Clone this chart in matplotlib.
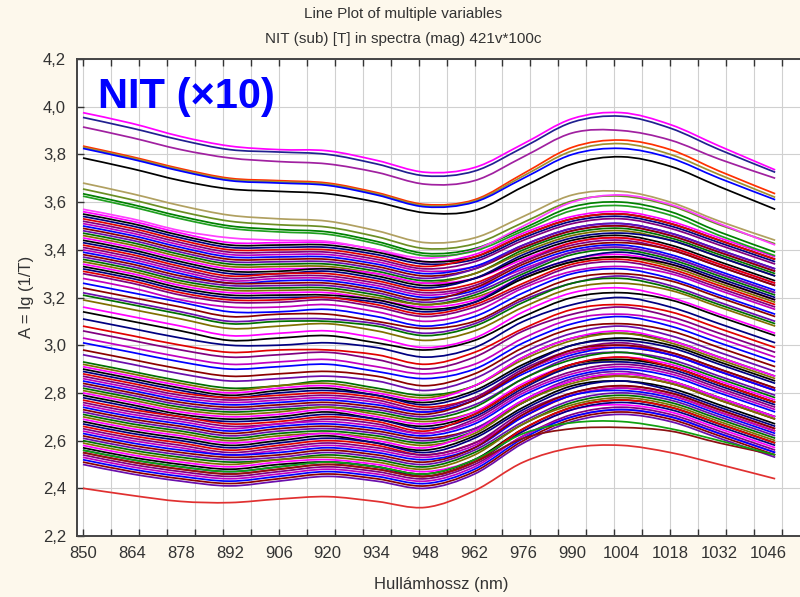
import matplotlib
matplotlib.use("Agg")
import matplotlib.pyplot as plt
from matplotlib.path import Path
from matplotlib.patches import PathPatch

plt.rcParams['font.family'] = ['Liberation Sans', 'DejaVu Sans']

title_lines = ["Line Plot of multiple variables",
               "NIT (sub) [T] in spectra (mag) 421v*100c"]
x_label = "Hullámhossz (nm)"
y_label = "A = lg (1/T)"
badge = "NIT (\u00d710)"

wavelengths = [850, 864, 878, 892, 906, 920, 934, 948, 962, 976, 990, 1004, 1018, 1032, 1048]
x_label_ticks = [850, 864, 878, 892, 906, 920, 934, 948, 962, 976, 990, 1004, 1018, 1032, 1046]
x_grid_ticks = list(range(850, 1051, 8))
y_ticks = [2.2, 2.4, 2.6, 2.8, 3.0, 3.2, 3.4, 3.6, 3.8, 4.0, 4.2]
y_tick_labels = ["2,2", "2,4", "2,6", "2,8", "3,0", "3,2", "3,4", "3,6", "3,8", "4,0", "4,2"]

top_group = [
    [3.975, 3.93, 3.875, 3.835, 3.82, 3.815, 3.775, 3.725, 3.745, 3.845, 3.95, 3.975, 3.925, 3.835, 3.735],
    [3.955, 3.91, 3.86, 3.82, 3.81, 3.80, 3.76, 3.71, 3.73, 3.83, 3.935, 3.96, 3.91, 3.82, 3.725],
    [3.915, 3.87, 3.82, 3.785, 3.77, 3.76, 3.725, 3.675, 3.69, 3.79, 3.89, 3.90, 3.86, 3.78, 3.70],
    [3.835, 3.79, 3.74, 3.70, 3.69, 3.68, 3.64, 3.59, 3.61, 3.72, 3.83, 3.86, 3.82, 3.73, 3.635],
    [3.83, 3.785, 3.735, 3.695, 3.685, 3.675, 3.635, 3.585, 3.605, 3.71, 3.815, 3.845, 3.80, 3.715, 3.62],
    [3.825, 3.78, 3.73, 3.69, 3.68, 3.67, 3.63, 3.58, 3.60, 3.70, 3.80, 3.825, 3.785, 3.70, 3.61],
    [3.785, 3.74, 3.69, 3.655, 3.645, 3.635, 3.60, 3.555, 3.565, 3.665, 3.76, 3.79, 3.75, 3.665, 3.57],
]
top_colors = ['#ff00ff', '#202090', '#a020a0', '#ff3000', '#a09030', '#0000ff', '#000000']

second_group = [
    [3.68, 3.635, 3.585, 3.545, 3.53, 3.52, 3.48, 3.43, 3.45, 3.54, 3.63, 3.645, 3.60, 3.52, 3.44],
    [3.655, 3.61, 3.56, 3.52, 3.505, 3.495, 3.455, 3.405, 3.425, 3.515, 3.605, 3.625, 3.585, 3.505, 3.425],
    [3.635, 3.59, 3.54, 3.50, 3.485, 3.475, 3.435, 3.385, 3.405, 3.49, 3.58, 3.60, 3.56, 3.475, 3.39],
    [3.57, 3.53, 3.48, 3.45, 3.44, 3.435, 3.40, 3.365, 3.40, 3.50, 3.60, 3.63, 3.59, 3.51, 3.42],
    [3.625, 3.58, 3.53, 3.49, 3.475, 3.465, 3.425, 3.375, 3.395, 3.48, 3.565, 3.585, 3.545, 3.46, 3.375],
]
second_colors = ['#b0a060', '#6b8e23', '#008000', '#ff40ff', '#20a020']

upper_band = [
    [3.56, 3.52, 3.47, 3.43, 3.43, 3.43, 3.40, 3.35, 3.38, 3.47, 3.54, 3.56, 3.52, 3.45, 3.37],
    [3.55, 3.51, 3.46, 3.42, 3.42, 3.42, 3.39, 3.35, 3.37, 3.46, 3.53, 3.55, 3.51, 3.44, 3.36],
    [3.54, 3.50, 3.45, 3.41, 3.41, 3.41, 3.38, 3.34, 3.36, 3.45, 3.52, 3.54, 3.50, 3.43, 3.35],
    [3.53, 3.49, 3.44, 3.40, 3.40, 3.40, 3.37, 3.33, 3.37, 3.46, 3.53, 3.55, 3.51, 3.44, 3.36],
    [3.52, 3.48, 3.43, 3.39, 3.39, 3.39, 3.36, 3.32, 3.35, 3.44, 3.51, 3.53, 3.49, 3.42, 3.34],
    [3.51, 3.47, 3.42, 3.38, 3.38, 3.38, 3.35, 3.31, 3.33, 3.41, 3.48, 3.50, 3.46, 3.39, 3.31],
    [3.50, 3.46, 3.41, 3.37, 3.37, 3.37, 3.34, 3.30, 3.33, 3.42, 3.49, 3.51, 3.47, 3.40, 3.32],
    [3.49, 3.45, 3.40, 3.36, 3.36, 3.36, 3.33, 3.29, 3.32, 3.41, 3.48, 3.50, 3.46, 3.39, 3.31],
    [3.48, 3.44, 3.39, 3.35, 3.35, 3.35, 3.32, 3.28, 3.32, 3.42, 3.49, 3.51, 3.47, 3.40, 3.32],
    [3.47, 3.43, 3.38, 3.34, 3.34, 3.34, 3.31, 3.27, 3.30, 3.40, 3.47, 3.49, 3.45, 3.38, 3.30],
    [3.46, 3.42, 3.37, 3.33, 3.33, 3.33, 3.30, 3.26, 3.30, 3.39, 3.46, 3.48, 3.44, 3.37, 3.29],
    [3.45, 3.41, 3.36, 3.32, 3.32, 3.32, 3.30, 3.26, 3.28, 3.36, 3.43, 3.45, 3.41, 3.34, 3.26],
    [3.44, 3.40, 3.35, 3.31, 3.31, 3.32, 3.29, 3.25, 3.28, 3.37, 3.44, 3.46, 3.42, 3.35, 3.27],
    [3.43, 3.39, 3.34, 3.30, 3.30, 3.31, 3.28, 3.24, 3.28, 3.38, 3.45, 3.47, 3.44, 3.37, 3.29],
    [3.42, 3.38, 3.33, 3.29, 3.30, 3.30, 3.27, 3.23, 3.26, 3.35, 3.43, 3.45, 3.41, 3.34, 3.26],
    [3.41, 3.37, 3.32, 3.28, 3.29, 3.29, 3.26, 3.22, 3.25, 3.35, 3.42, 3.44, 3.40, 3.33, 3.25],
    [3.40, 3.36, 3.31, 3.27, 3.28, 3.28, 3.25, 3.21, 3.24, 3.32, 3.39, 3.41, 3.37, 3.30, 3.22],
    [3.39, 3.35, 3.30, 3.26, 3.27, 3.27, 3.24, 3.20, 3.23, 3.33, 3.40, 3.42, 3.38, 3.31, 3.23],
    [3.38, 3.34, 3.29, 3.26, 3.26, 3.26, 3.23, 3.19, 3.24, 3.34, 3.41, 3.43, 3.40, 3.33, 3.25],
    [3.37, 3.33, 3.28, 3.25, 3.25, 3.25, 3.22, 3.18, 3.22, 3.31, 3.39, 3.41, 3.37, 3.30, 3.22],
    [3.36, 3.32, 3.27, 3.24, 3.24, 3.24, 3.21, 3.17, 3.21, 3.30, 3.38, 3.40, 3.36, 3.29, 3.21],
    [3.35, 3.31, 3.26, 3.23, 3.23, 3.23, 3.20, 3.17, 3.20, 3.28, 3.35, 3.37, 3.33, 3.26, 3.18],
    [3.34, 3.30, 3.25, 3.22, 3.22, 3.22, 3.19, 3.16, 3.19, 3.29, 3.36, 3.38, 3.34, 3.27, 3.19],
    [3.33, 3.29, 3.24, 3.21, 3.21, 3.21, 3.19, 3.15, 3.18, 3.28, 3.35, 3.37, 3.34, 3.27, 3.19],
    [3.32, 3.28, 3.23, 3.20, 3.20, 3.20, 3.18, 3.14, 3.18, 3.29, 3.36, 3.39, 3.35, 3.28, 3.20],
    [3.31, 3.27, 3.22, 3.19, 3.19, 3.20, 3.17, 3.13, 3.17, 3.26, 3.34, 3.36, 3.32, 3.25, 3.17],
    [3.30, 3.26, 3.21, 3.18, 3.18, 3.19, 3.16, 3.12, 3.16, 3.25, 3.33, 3.35, 3.31, 3.24, 3.16],
    [3.28, 3.24, 3.19, 3.16, 3.16, 3.17, 3.14, 3.10, 3.14, 3.24, 3.31, 3.33, 3.30, 3.23, 3.15],
]

middle_band = [
    [3.26, 3.22, 3.18, 3.14, 3.14, 3.15, 3.12, 3.08, 3.12, 3.22, 3.30, 3.32, 3.28, 3.21, 3.13],
    [3.24, 3.20, 3.16, 3.12, 3.13, 3.13, 3.10, 3.07, 3.10, 3.20, 3.28, 3.30, 3.27, 3.20, 3.12],
    [3.22, 3.18, 3.14, 3.10, 3.11, 3.11, 3.09, 3.05, 3.09, 3.19, 3.26, 3.29, 3.25, 3.18, 3.10],
    [3.21, 3.17, 3.13, 3.09, 3.10, 3.10, 3.08, 3.04, 3.08, 3.18, 3.26, 3.28, 3.24, 3.17, 3.09],
    [3.19, 3.15, 3.11, 3.07, 3.08, 3.09, 3.06, 3.02, 3.06, 3.16, 3.24, 3.26, 3.23, 3.16, 3.08],
    [3.16, 3.12, 3.08, 3.04, 3.05, 3.06, 3.03, 2.99, 3.03, 3.14, 3.22, 3.24, 3.20, 3.13, 3.05],
    [3.14, 3.10, 3.06, 3.02, 3.03, 3.04, 3.01, 2.98, 3.02, 3.12, 3.20, 3.22, 3.19, 3.12, 3.04],
    [3.11, 3.07, 3.03, 3.00, 3.00, 3.01, 2.99, 2.95, 2.99, 3.10, 3.17, 3.20, 3.16, 3.09, 3.01],
    [3.08, 3.04, 3.00, 2.97, 2.98, 2.98, 2.96, 2.92, 2.97, 3.07, 3.15, 3.17, 3.14, 3.07, 2.99],
    [3.06, 3.02, 2.98, 2.95, 2.96, 2.97, 2.94, 2.90, 2.95, 3.06, 3.13, 3.16, 3.12, 3.05, 2.97],
    [3.03, 2.99, 2.95, 2.92, 2.93, 2.94, 2.91, 2.88, 2.92, 3.03, 3.11, 3.13, 3.10, 3.03, 2.95],
    [3.01, 2.97, 2.93, 2.90, 2.91, 2.92, 2.89, 2.86, 2.90, 3.01, 3.09, 3.12, 3.08, 3.01, 2.93],
    [2.98, 2.94, 2.90, 2.87, 2.88, 2.89, 2.87, 2.83, 2.88, 2.99, 3.07, 3.09, 3.06, 2.99, 2.91],
    [2.96, 2.92, 2.88, 2.85, 2.86, 2.87, 2.85, 2.81, 2.86, 2.97, 3.05, 3.08, 3.04, 2.97, 2.89],
]

lower_band = [
    [2.93, 2.89, 2.85, 2.82, 2.83, 2.85, 2.82, 2.79, 2.83, 2.95, 3.03, 3.05, 3.02, 2.95, 2.87],
    [2.92, 2.88, 2.84, 2.81, 2.83, 2.84, 2.81, 2.78, 2.83, 2.94, 3.02, 3.05, 3.01, 2.94, 2.86],
    [2.91, 2.87, 2.83, 2.80, 2.82, 2.83, 2.80, 2.77, 2.83, 2.95, 3.03, 3.06, 3.02, 2.95, 2.87],
    [2.90, 2.86, 2.82, 2.79, 2.81, 2.82, 2.79, 2.76, 2.81, 2.92, 3.00, 3.03, 3.00, 2.93, 2.85],
    [2.89, 2.85, 2.81, 2.78, 2.80, 2.81, 2.79, 2.75, 2.80, 2.91, 3.00, 3.02, 2.99, 2.92, 2.84],
    [2.88, 2.84, 2.80, 2.78, 2.79, 2.80, 2.78, 2.74, 2.78, 2.89, 2.97, 2.99, 2.96, 2.89, 2.81],
    [2.87, 2.83, 2.79, 2.77, 2.78, 2.79, 2.77, 2.73, 2.78, 2.90, 2.98, 3.01, 2.97, 2.90, 2.82],
    [2.86, 2.82, 2.78, 2.76, 2.77, 2.78, 2.76, 2.72, 2.77, 2.89, 2.97, 3.00, 2.96, 2.89, 2.81],
    [2.85, 2.81, 2.77, 2.75, 2.76, 2.77, 2.75, 2.72, 2.77, 2.88, 2.96, 2.99, 2.96, 2.89, 2.81],
    [2.84, 2.80, 2.76, 2.74, 2.75, 2.76, 2.74, 2.71, 2.77, 2.89, 2.98, 3.00, 2.97, 2.90, 2.82],
    [2.83, 2.79, 2.75, 2.73, 2.74, 2.75, 2.73, 2.70, 2.75, 2.86, 2.95, 2.97, 2.94, 2.87, 2.79],
    [2.82, 2.78, 2.74, 2.72, 2.73, 2.74, 2.72, 2.69, 2.74, 2.86, 2.94, 2.97, 2.93, 2.86, 2.78],
    [2.81, 2.77, 2.73, 2.71, 2.72, 2.74, 2.71, 2.68, 2.72, 2.83, 2.91, 2.94, 2.91, 2.84, 2.76],
    [2.80, 2.76, 2.72, 2.70, 2.71, 2.73, 2.70, 2.67, 2.72, 2.84, 2.92, 2.95, 2.92, 2.85, 2.77],
    [2.79, 2.75, 2.71, 2.69, 2.70, 2.72, 2.69, 2.66, 2.71, 2.83, 2.92, 2.94, 2.91, 2.84, 2.76],
    [2.78, 2.74, 2.70, 2.68, 2.69, 2.71, 2.69, 2.65, 2.70, 2.82, 2.91, 2.93, 2.90, 2.83, 2.75],
    [2.77, 2.73, 2.70, 2.67, 2.68, 2.70, 2.68, 2.64, 2.71, 2.83, 2.92, 2.95, 2.91, 2.84, 2.76],
    [2.76, 2.72, 2.69, 2.66, 2.67, 2.69, 2.67, 2.63, 2.69, 2.81, 2.89, 2.92, 2.89, 2.82, 2.74],
    [2.75, 2.71, 2.68, 2.65, 2.67, 2.68, 2.66, 2.63, 2.68, 2.80, 2.88, 2.91, 2.88, 2.81, 2.73],
    [2.74, 2.70, 2.67, 2.64, 2.66, 2.67, 2.65, 2.62, 2.67, 2.79, 2.87, 2.90, 2.87, 2.80, 2.72],
    [2.73, 2.69, 2.66, 2.63, 2.65, 2.66, 2.64, 2.61, 2.65, 2.76, 2.85, 2.87, 2.84, 2.77, 2.69],
    [2.72, 2.68, 2.65, 2.62, 2.64, 2.65, 2.63, 2.60, 2.65, 2.77, 2.86, 2.89, 2.85, 2.78, 2.70],
    [2.71, 2.67, 2.64, 2.61, 2.63, 2.64, 2.62, 2.59, 2.64, 2.76, 2.85, 2.88, 2.85, 2.78, 2.70],
    [2.70, 2.66, 2.63, 2.60, 2.62, 2.63, 2.61, 2.58, 2.63, 2.76, 2.84, 2.87, 2.84, 2.77, 2.69],
    [2.69, 2.65, 2.62, 2.59, 2.61, 2.63, 2.60, 2.57, 2.64, 2.77, 2.85, 2.88, 2.85, 2.78, 2.70],
    [2.68, 2.64, 2.61, 2.58, 2.60, 2.62, 2.59, 2.56, 2.62, 2.74, 2.83, 2.85, 2.82, 2.75, 2.67],
    [2.67, 2.63, 2.60, 2.57, 2.59, 2.61, 2.59, 2.55, 2.61, 2.73, 2.82, 2.85, 2.81, 2.74, 2.66],
    [2.66, 2.62, 2.59, 2.56, 2.58, 2.60, 2.58, 2.54, 2.59, 2.70, 2.79, 2.82, 2.79, 2.72, 2.64],
    [2.65, 2.61, 2.58, 2.55, 2.57, 2.59, 2.57, 2.54, 2.59, 2.72, 2.80, 2.83, 2.80, 2.73, 2.65],
    [2.64, 2.60, 2.57, 2.54, 2.56, 2.58, 2.56, 2.53, 2.58, 2.71, 2.79, 2.82, 2.79, 2.72, 2.64],
    [2.63, 2.59, 2.56, 2.54, 2.55, 2.57, 2.55, 2.52, 2.57, 2.70, 2.79, 2.81, 2.78, 2.71, 2.63],
    [2.62, 2.58, 2.55, 2.53, 2.54, 2.56, 2.54, 2.51, 2.57, 2.71, 2.80, 2.83, 2.80, 2.73, 2.65],
    [2.61, 2.57, 2.54, 2.52, 2.53, 2.55, 2.53, 2.50, 2.56, 2.68, 2.77, 2.80, 2.77, 2.70, 2.62],
    [2.60, 2.56, 2.53, 2.51, 2.52, 2.54, 2.52, 2.49, 2.55, 2.67, 2.76, 2.79, 2.76, 2.69, 2.61],
    [2.59, 2.55, 2.52, 2.50, 2.52, 2.53, 2.51, 2.48, 2.54, 2.67, 2.75, 2.78, 2.75, 2.68, 2.60],
    [2.58, 2.54, 2.51, 2.49, 2.51, 2.52, 2.50, 2.47, 2.52, 2.64, 2.73, 2.75, 2.72, 2.65, 2.57],
    [2.57, 2.53, 2.50, 2.48, 2.50, 2.51, 2.49, 2.46, 2.52, 2.65, 2.74, 2.77, 2.74, 2.67, 2.59],
    [2.56, 2.52, 2.49, 2.47, 2.49, 2.51, 2.49, 2.45, 2.51, 2.64, 2.73, 2.76, 2.73, 2.66, 2.58],
    [2.55, 2.51, 2.48, 2.46, 2.48, 2.50, 2.48, 2.45, 2.51, 2.65, 2.74, 2.77, 2.74, 2.67, 2.59],
    [2.54, 2.50, 2.47, 2.45, 2.47, 2.49, 2.47, 2.44, 2.50, 2.62, 2.71, 2.74, 2.71, 2.64, 2.56],
    [2.53, 2.49, 2.46, 2.44, 2.46, 2.48, 2.46, 2.43, 2.49, 2.62, 2.70, 2.73, 2.70, 2.63, 2.55],
    [2.52, 2.48, 2.45, 2.43, 2.45, 2.47, 2.45, 2.42, 2.48, 2.61, 2.70, 2.73, 2.70, 2.63, 2.55],
    [2.51, 2.47, 2.44, 2.42, 2.44, 2.46, 2.44, 2.41, 2.47, 2.60, 2.69, 2.72, 2.69, 2.62, 2.54],
    [2.50, 2.46, 2.43, 2.41, 2.43, 2.45, 2.43, 2.40, 2.46, 2.59, 2.68, 2.71, 2.68, 2.61, 2.53],
]

low_outliers = [
    [2.55, 2.51, 2.48, 2.46, 2.48, 2.50, 2.48, 2.45, 2.51, 2.61, 2.65, 2.655, 2.64, 2.59, 2.54],
    [2.56, 2.52, 2.49, 2.47, 2.49, 2.51, 2.49, 2.46, 2.52, 2.63, 2.675, 2.68, 2.65, 2.60, 2.54],
    [2.40, 2.37, 2.345, 2.34, 2.355, 2.365, 2.345, 2.32, 2.39, 2.51, 2.57, 2.58, 2.55, 2.50, 2.44],
]
low_colors = ['#8b1010', '#10a010', '#e03030']

band_palette = ['#ff00ff', '#e00000', '#0000ff', '#007000', '#000000', '#800080',
                '#8b0000', '#7f7000', '#000080', '#c000c0', '#6a0dad']

LW = 1.25


def smooth_line(ax, xs, ys, color):
    """Draw a smooth curve passing through every data point (Catmull-Rom as Bezier)."""
    n = len(xs)
    verts = [(xs[0], ys[0])]
    codes = [Path.MOVETO]
    for i in range(n - 1):
        x0, y0 = (xs[i - 1], ys[i - 1]) if i > 0 else (xs[i], ys[i])
        x1, y1 = xs[i], ys[i]
        x2, y2 = xs[i + 1], ys[i + 1]
        x3, y3 = (xs[i + 2], ys[i + 2]) if i + 2 < n else (xs[i + 1], ys[i + 1])
        c1 = (x1 + (x2 - x0) / 6.0, y1 + (y2 - y0) / 6.0)
        c2 = (x2 - (x3 - x1) / 6.0, y2 - (y3 - y1) / 6.0)
        verts += [c1, c2, (x2, y2)]
        codes += [Path.CURVE4, Path.CURVE4, Path.CURVE4]
    ax.add_patch(PathPatch(Path(verts, codes), fill=False, edgecolor=color, lw=LW,
                           capstyle='butt', joinstyle='round'))


fig = plt.figure(figsize=(8.0, 5.97), dpi=100, facecolor='#fdf8ec')
ax = fig.add_axes([77 / 800, 1 - 536 / 597, 1 - 77 / 800 + 0.01, (536 - 59) / 597])
ax.set_facecolor('white')

band = upper_band + middle_band + lower_band
for i, row in enumerate(band):
    smooth_line(ax, wavelengths, row, band_palette[(i * 4) % len(band_palette)])
for row, c in zip(second_group, second_colors):
    smooth_line(ax, wavelengths, row, c)
for row, c in zip(top_group, top_colors):
    smooth_line(ax, wavelengths, row, c)
for row, c in zip(low_outliers, low_colors):
    smooth_line(ax, wavelengths, row, c)

ax.set_xlim(850 - 6 / 3.52, 850 + 730 / 3.52)
ax.set_ylim(2.2, 4.2)

ax.xaxis.remove_overlapping_locs = False
ax.set_xticks(x_grid_ticks)
ax.set_xticklabels([])
ax.set_xticks(x_label_ticks, minor=True)
ax.set_xticklabels([str(v) for v in x_label_ticks], minor=True)
ax.set_yticks(y_ticks)
ax.set_yticklabels(y_tick_labels)

ax.tick_params(axis='x', which='major', direction='in', top=True, bottom=True,
               length=5, width=1.0, color='#333333')
ax.tick_params(axis='x', which='minor', length=0, pad=7, labelsize=12, labelcolor='#333333',
               top=False, bottom=True)
ax.tick_params(axis='y', direction='in', left=True, right=False, length=5, width=1.0,
               color='#333333', pad=8, labelsize=12, labelcolor='#333333')

ax.grid(True, which='major', color='#d0d0d0', lw=0.8)
ax.set_axisbelow(True)
for s in ['left', 'bottom', 'top']:
    ax.spines[s].set_color('#444444')
    ax.spines[s].set_linewidth(1.4)
ax.spines['right'].set_visible(False)

fig.text(403 / 800, 1 - 14 / 597, title_lines[0], ha='center', va='center', fontsize=11, color='#333333')
fig.text(403 / 800, 1 - 39 / 597, title_lines[1], ha='center', va='center', fontsize=11, color='#333333')
fig.text(441 / 800, 1 - 585 / 597, x_label, ha='center', va='center', fontsize=12, color='#333333')
fig.text(27 / 800, 1 - 297 / 597, y_label, ha='center', va='center', rotation=90, fontsize=12, color='#333333')
fig.text(98 / 800, 1 - 108 / 597, badge, ha='left', va='baseline', fontsize=30,
         fontweight='bold', color='#0000ff')

fig.savefig('out.png', dpi=100, facecolor=fig.get_facecolor())
